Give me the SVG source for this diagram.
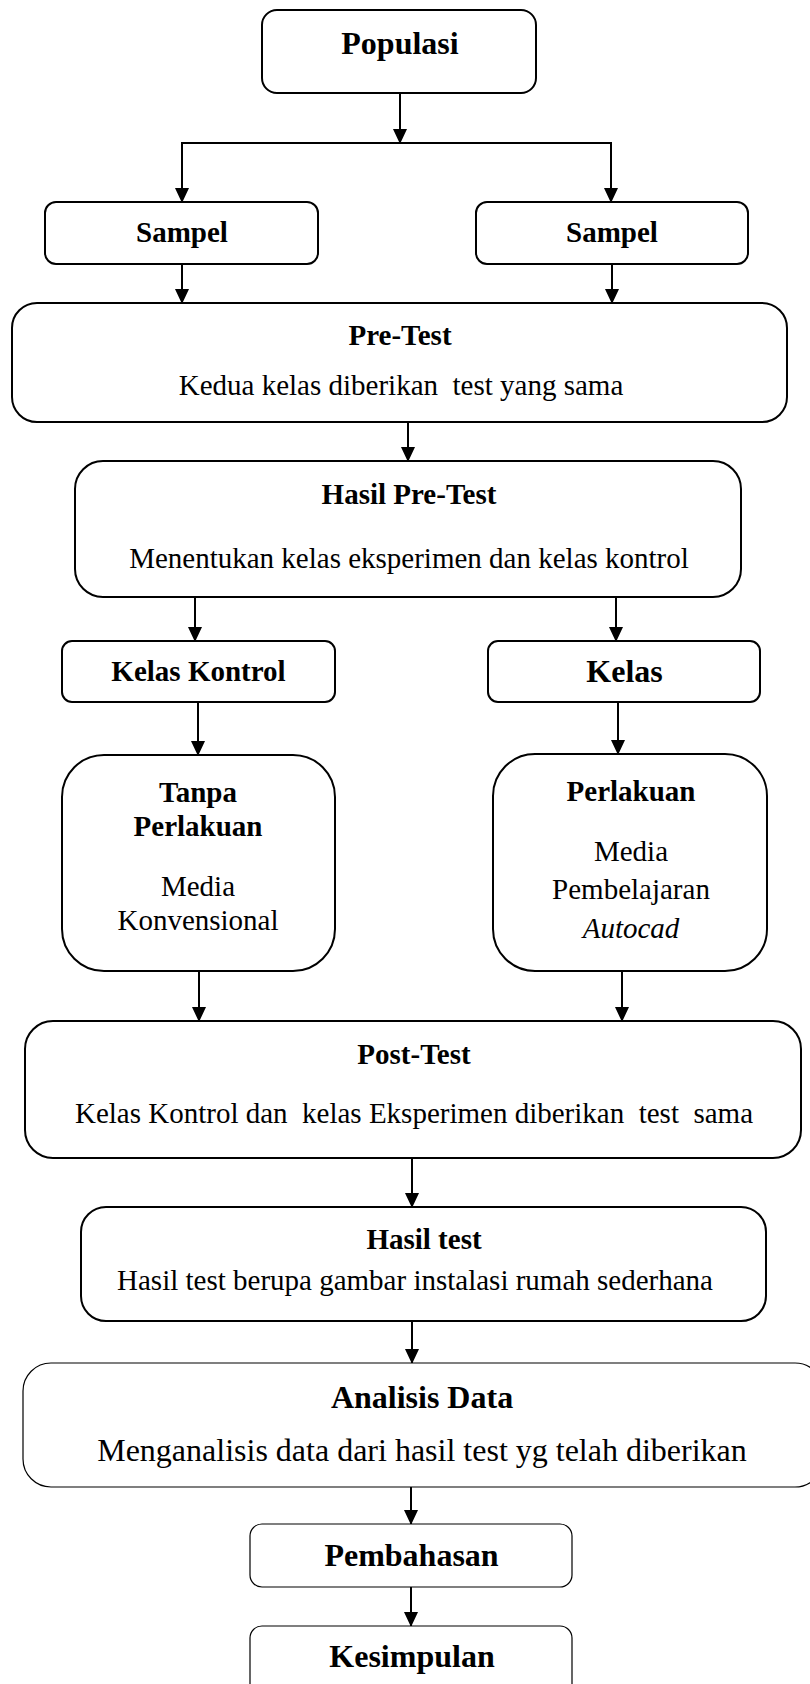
<svg xmlns="http://www.w3.org/2000/svg" width="810" height="1684" viewBox="0 0 810 1684">
<style>
.box{fill:#fff;stroke:#000;stroke-width:2}
.thin{fill:#fff;stroke:#000;stroke-width:1.2}
.t{font-family:"Liberation Serif","Times New Roman",serif;font-size:29px;text-anchor:middle;fill:#000;white-space:pre}
.b{font-weight:bold}
.big{font-size:32px}
.i{font-style:italic}
.c{stroke:#000;stroke-width:2;fill:none}
</style>
<defs>
<marker id="ah" viewBox="0 0 15 14" refX="14" refY="7" markerWidth="15" markerHeight="14" markerUnits="userSpaceOnUse" orient="auto">
<path d="M0,0 L15,7 L0,14 z" fill="#000"/>
</marker>
</defs>
<g id="connectors">
<line class="c" x1="400" y1="93" x2="400" y2="143" marker-end="url(#ah)"/>
<line class="c" x1="182" y1="143" x2="611" y2="143"/>
<line class="c" x1="182" y1="142" x2="182" y2="202" marker-end="url(#ah)"/>
<line class="c" x1="611" y1="142" x2="611" y2="202" marker-end="url(#ah)"/>
<line class="c" x1="182" y1="264" x2="182" y2="303" marker-end="url(#ah)"/>
<line class="c" x1="612" y1="264" x2="612" y2="303" marker-end="url(#ah)"/>
<line class="c" x1="408" y1="422" x2="408" y2="461" marker-end="url(#ah)"/>
<line class="c" x1="195" y1="597" x2="195" y2="641" marker-end="url(#ah)"/>
<line class="c" x1="616" y1="597" x2="616" y2="641" marker-end="url(#ah)"/>
<line class="c" x1="198" y1="702" x2="198" y2="755" marker-end="url(#ah)"/>
<line class="c" x1="618" y1="700" x2="618" y2="754" marker-end="url(#ah)"/>
<line class="c" x1="199" y1="971" x2="199" y2="1021" marker-end="url(#ah)"/>
<line class="c" x1="622" y1="971" x2="622" y2="1021" marker-end="url(#ah)"/>
<line class="c" x1="412" y1="1156" x2="412" y2="1207" marker-end="url(#ah)"/>
<line class="c" x1="412" y1="1321" x2="412" y2="1363" marker-end="url(#ah)"/>
<line class="c" x1="411" y1="1486" x2="411" y2="1524" marker-end="url(#ah)"/>
<line class="c" x1="411" y1="1587" x2="411" y2="1626" marker-end="url(#ah)"/>
</g>
<g id="populasi">
<rect class="box" x="262" y="10" width="274" height="83" rx="15"/>
<text class="t b big" x="400" y="54">Populasi</text>
</g>
<g id="sampel1">
<rect class="box" x="45" y="202" width="273" height="62" rx="11"/>
<text class="t b" x="182" y="242">Sampel</text>
</g>
<g id="sampel2">
<rect class="box" x="476" y="202" width="272" height="62" rx="11"/>
<text class="t b" x="612" y="242">Sampel</text>
</g>
<g id="pretest">
<rect class="box" x="12" y="303" width="775" height="119" rx="25"/>
<text class="t b" x="400" y="345">Pre-Test</text>
<text class="t" x="401" y="395">Kedua kelas diberikan  test yang sama</text>
</g>
<g id="hasilpretest">
<rect class="box" x="75" y="461" width="666" height="136" rx="28"/>
<text class="t b" x="409" y="504">Hasil Pre-Test</text>
<text class="t" x="409" y="568">Menentukan kelas eksperimen dan kelas kontrol</text>
</g>
<g id="kelaskontrol">
<rect class="box" x="62" y="641" width="273" height="61" rx="10"/>
<text class="t b" x="198.5" y="681">Kelas Kontrol</text>
</g>
<g id="kelas">
<rect class="box" x="488" y="641" width="272" height="61" rx="10"/>
<text class="t b big" x="624.5" y="682">Kelas</text>
</g>
<g id="tanpaperlakuan">
<rect class="box" x="62" y="755" width="273" height="216" rx="42"/>
<text class="t b" x="198" y="802">Tanpa</text>
<text class="t b" x="198" y="836">Perlakuan</text>
<text class="t" x="198" y="896">Media</text>
<text class="t" x="198" y="930">Konvensional</text>
</g>
<g id="perlakuan">
<rect class="box" x="493" y="754" width="274" height="217" rx="42"/>
<text class="t b" x="631" y="801">Perlakuan</text>
<text class="t" x="631" y="861">Media</text>
<text class="t" x="631" y="899">Pembelajaran</text>
<text class="t i" x="631" y="938">Autocad</text>
</g>
<g id="posttest">
<rect class="box" x="25" y="1021" width="776" height="137" rx="28"/>
<text class="t b" x="414" y="1064">Post-Test</text>
<text class="t" x="414" y="1123">Kelas Kontrol dan  kelas Eksperimen diberikan  test  sama</text>
</g>
<g id="hasiltest">
<rect class="box" x="81" y="1207" width="685" height="114" rx="25"/>
<text class="t b" x="424" y="1249">Hasil test</text>
<text class="t" x="415" y="1290">Hasil test berupa gambar instalasi rumah sederhana</text>
</g>
<g id="analisisdata">
<rect class="thin" x="23" y="1363" width="800" height="124" rx="28"/>
<text class="t b big" x="422" y="1408">Analisis Data</text>
<text class="t big" x="422" y="1461">Menganalisis data dari hasil test yg telah diberikan</text>
</g>
<g id="pembahasan">
<rect class="thin" x="250" y="1524" width="322" height="63" rx="12"/>
<text class="t b big" x="411.5" y="1566">Pembahasan</text>
</g>
<g id="kesimpulan">
<rect class="thin" x="250" y="1626" width="322" height="80" rx="12"/>
<text class="t b big" x="412" y="1667">Kesimpulan</text>
</g>
</svg>
